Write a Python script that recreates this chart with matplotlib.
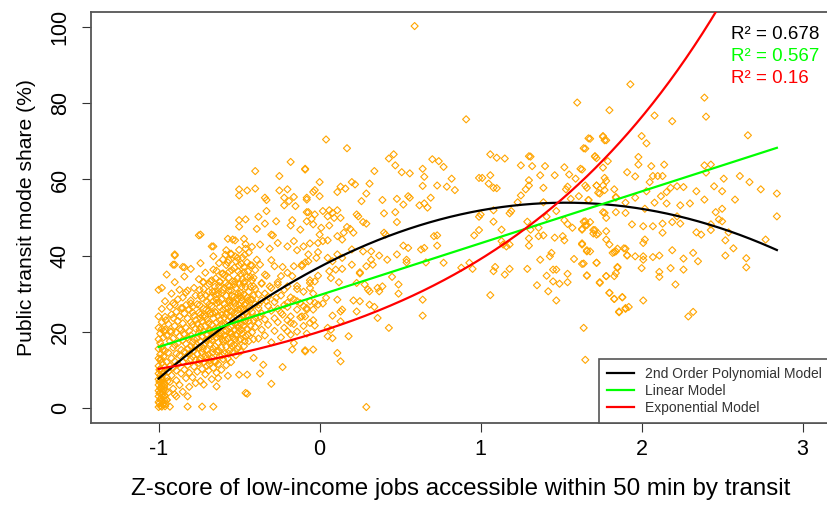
import numpy as np
import matplotlib

matplotlib.use("Agg")
import matplotlib.pyplot as plt

plt.rcParams["font.family"] = ["Liberation Sans", "DejaVu Sans"]

# model parameters
poly_coef = [37.0, 22.1, -7.23]  # a + b*x + c*x^2
lin_coef = [29.6, 13.63]  # a + b*x
exp_coef = [20.0, 0.67]  # a * exp(b*x)
model_names = ["2nd Order Polynomial Model", "Linear Model", "Exponential Model"]
model_colors = ["#000000", "#00FF00", "#FF0000"]
r2_labels = ["R\u00b2 = 0.678", "R\u00b2 = 0.567", "R\u00b2 = 0.16"]

x_ticks = [-1, 0, 1, 2, 3]
y_ticks = [0, 20, 40, 60, 80, 100]

# points stacked at the lower bound of the z-score
col_pts = [
    (-1.00, 0.2), (-1.00, 1.5), (-1.00, 3.0), (-1.00, 4.5), (-1.00, 6.0), (-1.00, 7.5),
    (-1.00, 9.0), (-1.00, 11.0), (-1.00, 13.0), (-1.00, 15.5), (-1.00, 18.0), (-1.00, 21.0),
    (-1.00, 24.0), (-1.00, 31.0), (-0.99, 0.5), (-0.99, 2.2), (-0.99, 4.0), (-0.99, 5.2),
    (-0.99, 7.0), (-0.99, 8.5), (-0.99, 10.2), (-0.99, 12.5), (-0.99, 14.0), (-0.99, 17.0),
    (-0.99, 19.5), (-0.98, 0.3), (-0.98, 1.8), (-0.98, 3.5), (-0.98, 5.8), (-0.98, 7.8),
    (-0.98, 9.6), (-0.98, 11.8), (-0.98, 16.0), (-0.98, 22.5), (-0.98, 26.0), (-0.97, 1.0),
    (-0.97, 2.8), (-0.97, 4.8), (-0.97, 6.5), (-0.97, 8.8), (-0.97, 13.5), (-0.97, 18.5),
    (-0.96, 0.4), (-0.96, 3.2), (-0.96, 6.2), (-0.96, 10.8), (-0.96, 15.0), (-0.96, 28.0),
    (-0.95, 2.0), (-0.95, 8.0), (-0.95, 12.0), (-0.95, 19.0), (-0.95, 35.0), (-0.94, 4.0),
    (-0.94, 9.5), (-0.94, 14.5), (-0.94, 22.0), (-0.93, 0.3), (-0.93, 6.8), (-0.93, 11.0),
    (-0.93, 17.5), (-0.93, 26.5), (-0.995, 1.2), (-0.995, 3.8), (-0.995, 6.8),
    (-0.985, 2.5), (-0.985, 5.0), (-0.985, 8.0), (-0.975, 0.8), (-0.975, 4.2),
    (-0.975, 7.2), (-0.965, 2.0), (-0.965, 5.5), (-0.955, 1.0), (-0.955, 4.6),
    (-0.945, 7.0), (-0.995, 10.0), (-0.985, 12.8), (-0.975, 15.2), (-0.965, 20.0),
    (-0.955, 23.0),
]

# dense cluster between z = -0.92 and z = 0
dense_pts = [
    (-0.92, 8.5), (-0.92, 13.0), (-0.92, 20.0), (-0.92, 24.5), (-0.92, 30.0),
    (-0.91, 5.0), (-0.91, 10.5), (-0.91, 15.8), (-0.91, 18.2), (-0.91, 27.5),
    (-0.90, 3.5), (-0.90, 12.2), (-0.90, 16.5), (-0.90, 21.5), (-0.90, 33.0),
    (-0.89, 7.2), (-0.89, 9.8), (-0.89, 14.2), (-0.89, 19.8), (-0.89, 25.2),
    (-0.88, 11.5), (-0.88, 17.0), (-0.88, 22.8), (-0.88, 28.5),
    (-0.87, 6.0), (-0.87, 13.8), (-0.87, 18.8), (-0.87, 24.0), (-0.87, 31.0),
    (-0.86, 9.0), (-0.86, 15.2), (-0.86, 20.5), (-0.86, 26.2),
    (-0.85, 4.2), (-0.85, 12.0), (-0.85, 17.8), (-0.85, 22.2), (-0.85, 29.0),
    (-0.84, 10.0), (-0.84, 14.8), (-0.84, 19.2), (-0.84, 24.8), (-0.84, 34.5),
    (-0.83, 7.8), (-0.83, 13.2), (-0.83, 16.8), (-0.83, 21.0), (-0.83, 27.0),
    (-0.82, 11.2), (-0.82, 15.5), (-0.82, 18.5), (-0.82, 23.5), (-0.82, 30.8),
    (-0.81, 5.5), (-0.81, 9.2), (-0.81, 14.0), (-0.81, 20.2), (-0.81, 25.8),
    (-0.80, 12.8), (-0.80, 16.2), (-0.80, 19.0), (-0.80, 22.5), (-0.80, 28.2), (-0.80, 36.5),
    (-0.79, 8.0), (-0.79, 13.5), (-0.79, 17.2), (-0.79, 21.8), (-0.79, 26.5),
    (-0.78, 10.8), (-0.78, 15.0), (-0.78, 18.0), (-0.78, 24.2), (-0.78, 31.5),
    (-0.77, 6.5), (-0.77, 12.5), (-0.77, 16.0), (-0.77, 20.8), (-0.77, 23.0), (-0.77, 29.5),
    (-0.76, 9.5), (-0.76, 14.2), (-0.76, 18.2), (-0.76, 22.0), (-0.76, 27.2),
    (-0.75, 11.8), (-0.75, 15.8), (-0.75, 19.5), (-0.75, 25.0), (-0.75, 33.8),
    (-0.74, 7.0), (-0.74, 13.0), (-0.74, 17.5), (-0.74, 21.2), (-0.74, 24.5), (-0.74, 38.0),
    (-0.73, 10.2), (-0.73, 14.5), (-0.73, 18.8), (-0.73, 22.8), (-0.73, 28.8),
    (-0.72, 12.0), (-0.72, 16.5), (-0.72, 20.0), (-0.72, 26.0), (-0.72, 31.2),
    (-0.71, 8.8), (-0.71, 13.8), (-0.71, 17.0), (-0.71, 21.5), (-0.71, 24.0), (-0.71, 35.5),
    (-0.70, 11.0), (-0.70, 15.2), (-0.70, 19.2), (-0.70, 23.2), (-0.70, 27.8),
    (-0.69, 9.8), (-0.69, 14.0), (-0.69, 18.0), (-0.69, 22.2), (-0.69, 25.5), (-0.69, 30.5),
    (-0.68, 12.5), (-0.68, 16.8), (-0.68, 20.5), (-0.68, 24.8), (-0.68, 29.0),
    (-0.67, 7.5), (-0.67, 13.2), (-0.67, 17.8), (-0.67, 21.8), (-0.67, 26.8), (-0.67, 33.5),
    (-0.66, 10.5), (-0.66, 15.5), (-0.66, 19.8), (-0.66, 23.5), (-0.66, 28.0),
    (-0.65, 12.2), (-0.65, 16.2), (-0.65, 20.8), (-0.65, 25.2), (-0.65, 31.8),
    (-0.64, 9.2), (-0.64, 14.8), (-0.64, 18.5), (-0.64, 22.5), (-0.64, 27.5), (-0.64, 36.0),
    (-0.63, 11.5), (-0.63, 17.2), (-0.63, 21.0), (-0.63, 24.2), (-0.63, 30.0),
    (-0.62, 13.5), (-0.62, 18.8), (-0.62, 23.0), (-0.62, 26.5), (-0.62, 33.0),
    (-0.61, 10.0), (-0.61, 15.8), (-0.61, 19.5), (-0.61, 22.0), (-0.61, 28.5),
    (-0.60, 12.8), (-0.60, 17.5), (-0.60, 21.5), (-0.60, 25.8), (-0.60, 31.0), (-0.60, 39.0),
    (-0.59, 14.2), (-0.59, 19.0), (-0.59, 23.8), (-0.59, 27.2), (-0.59, 34.8),
    (-0.58, 11.2), (-0.58, 16.0), (-0.58, 20.2), (-0.58, 24.5), (-0.58, 29.5), (-0.58, 37.5),
    (-0.57, 13.0), (-0.57, 18.2), (-0.57, 22.8), (-0.57, 26.2), (-0.57, 32.2),
    (-0.56, 15.0), (-0.56, 19.8), (-0.56, 24.0), (-0.56, 28.2), (-0.56, 35.8),
    (-0.55, 12.0), (-0.55, 17.0), (-0.55, 21.2), (-0.55, 25.5), (-0.55, 30.8), (-0.55, 40.5),
    (-0.54, 14.5), (-0.54, 18.5), (-0.54, 23.2), (-0.54, 27.8), (-0.54, 33.2),
    (-0.53, 16.5), (-0.53, 20.5), (-0.53, 25.0), (-0.53, 29.2), (-0.53, 36.8),
    (-0.52, 13.8), (-0.52, 19.2), (-0.52, 22.5), (-0.52, 26.8), (-0.52, 31.5), (-0.52, 38.5),
    (-0.51, 15.5), (-0.51, 21.8), (-0.51, 24.8), (-0.51, 28.8), (-0.51, 34.0),
    (-0.50, 17.8), (-0.50, 20.0), (-0.50, 23.5), (-0.50, 27.0), (-0.50, 32.5), (-0.50, 41.5),
    (-0.49, 14.8), (-0.49, 18.0), (-0.49, 22.0), (-0.49, 26.0), (-0.49, 30.2), (-0.49, 35.2),
    (-0.48, 19.5), (-0.48, 24.2), (-0.48, 28.0), (-0.48, 33.8), (-0.48, 39.5),
    (-0.47, 16.2), (-0.47, 21.5), (-0.47, 25.8), (-0.47, 29.8), (-0.47, 37.0),
    (-0.46, 18.8), (-0.46, 23.0), (-0.46, 27.5), (-0.46, 31.8), (-0.46, 43.0),
    (-0.45, 20.8), (-0.45, 24.5), (-0.45, 29.0), (-0.45, 34.5), (-0.45, 38.2),
    (-0.44, 17.5), (-0.44, 22.8), (-0.44, 26.5), (-0.44, 30.5), (-0.44, 40.8),
    (-0.42, 19.8), (-0.42, 25.2), (-0.42, 28.5), (-0.42, 33.5),
    (-0.40, 21.2), (-0.40, 23.8), (-0.40, 27.2), (-0.40, 31.2), (-0.40, 36.2),
    (-0.38, 18.2), (-0.38, 22.2), (-0.38, 26.2), (-0.38, 29.8),
    (-0.36, 20.5), (-0.36, 24.8), (-0.36, 28.2), (-0.36, 32.8),
    (-0.34, 19.0), (-0.34, 23.2), (-0.34, 30.0), (-0.34, 35.0),
    (-0.32, 21.8), (-0.32, 26.8), (-0.32, 29.2),
    (-0.30, 17.2), (-0.30, 25.5), (-0.30, 31.5), (-0.30, 38.8),
    (-0.28, 20.2), (-0.28, 23.5), (-0.28, 27.8),
    (-0.26, 22.5), (-0.26, 26.0), (-0.26, 33.0),
    (-0.24, 18.5), (-0.24, 25.0), (-0.24, 29.5),
    (-0.22, 21.0), (-0.22, 27.0), (-0.22, 31.0),
    (-0.20, 23.0), (-0.20, 26.5), (-0.20, 35.5),
    (-0.18, 19.2), (-0.18, 24.0), (-0.18, 29.0),
    (-0.16, 22.0), (-0.16, 28.5), (-0.14, 20.0), (-0.14, 25.8), (-0.14, 32.0),
    (-0.12, 23.8), (-0.12, 27.5), (-0.10, 21.5), (-0.10, 30.5),
    (-0.08, 19.5), (-0.08, 26.2), (-0.06, 28.0), (-0.06, 33.5), (-0.04, 23.0), (-0.04, 30.0),
]

# the solid core of the cluster, between z = -0.75 and z = -0.4
core_pts = [
    (-0.745, 12.5), (-0.745, 20.5), (-0.745, 27.0), (-0.745, 31.0),
    (-0.725, 15.5), (-0.725, 24.0), (-0.725, 33.0),
    (-0.705, 13.0), (-0.705, 17.8), (-0.705, 25.8), (-0.705, 29.5),
    (-0.685, 11.5), (-0.685, 20.2), (-0.685, 27.2), (-0.685, 32.5),
    (-0.665, 14.5), (-0.665, 18.8), (-0.665, 24.8), (-0.665, 30.5),
    (-0.645, 12.0), (-0.645, 20.0), (-0.645, 25.0), (-0.645, 29.8), (-0.645, 34.0),
    (-0.625, 15.0), (-0.625, 19.5), (-0.625, 27.8), (-0.625, 32.0), (-0.625, 38.0),
    (-0.605, 13.8), (-0.605, 18.0), (-0.605, 24.5), (-0.605, 30.2), (-0.605, 35.2),
    (-0.585, 17.8), (-0.585, 22.0), (-0.585, 26.2), (-0.585, 32.8), (-0.585, 40.2),
    (-0.565, 14.2), (-0.565, 20.8), (-0.565, 28.0), (-0.565, 30.8), (-0.565, 34.2),
    (-0.565, 38.8), (-0.545, 16.2), (-0.545, 19.5), (-0.545, 25.2), (-0.545, 29.5),
    (-0.545, 36.2), (-0.525, 18.0), (-0.525, 22.2), (-0.525, 27.5), (-0.525, 33.2),
    (-0.525, 39.8), (-0.525, 44.0), (-0.505, 16.0), (-0.505, 21.0), (-0.505, 25.8),
    (-0.505, 30.0), (-0.505, 35.8), (-0.485, 20.5), (-0.485, 23.2), (-0.485, 29.0),
    (-0.485, 31.8), (-0.485, 37.8), (-0.465, 17.5), (-0.465, 22.8), (-0.465, 27.0),
    (-0.465, 33.2), (-0.465, 40.2), (-0.445, 19.2), (-0.445, 24.0), (-0.445, 28.2),
    (-0.445, 35.8), (-0.43, 21.5), (-0.43, 26.0), (-0.43, 31.8), (-0.43, 37.5),
    (-0.41, 18.0), (-0.41, 23.0), (-0.41, 29.5), (-0.41, 34.2),
]

# scattered points, z from -1 to 0
left_pts = [
    (-0.18, 64.6), (-0.09, 62.6), (-0.40, 62.2), (-0.25, 60.9), (-0.50, 57.4), (-0.50, 55.8),
    (-0.45, 57.1), (-0.40, 57.6), (-0.25, 57.1), (-0.20, 57.4), (-0.34, 55.2), (-0.33, 54.6),
    (-0.22, 55.2), (-0.16, 55.4), (-0.19, 54.3), (-0.22, 53.2), (-0.15, 53.0), (-0.08, 54.7),
    (-0.33, 51.7), (-0.08, 51.4), (-0.27, 49.0), (-0.38, 50.2), (-0.50, 49.3), (-0.46, 49.5),
    (-0.50, 47.6), (-0.39, 47.0), (-0.34, 48.4), (-0.17, 49.3), (-0.18, 47.9), (-0.12, 46.8),
    (-0.08, 49.0), (-0.30, 45.5), (-0.29, 45.3), (-0.75, 45.3), (-0.57, 44.4), (-0.54, 44.2),
    (-0.67, 42.4), (-0.58, 41.4), (-0.47, 44.4), (-0.46, 41.8), (-0.42, 42.3), (-0.37, 42.9),
    (-0.31, 41.8), (-0.26, 43.3), (-0.20, 42.4), (-0.16, 43.8), (-0.14, 41.4), (-0.10, 42.4),
    (-0.90, 40.0), (-0.91, 37.6), (-0.85, 37.0), (-0.66, 39.8), (-0.55, 40.3), (-0.57, 38.2),
    (-0.51, 39.4), (-0.50, 37.4), (-0.42, 37.4), (-0.37, 37.6), (-0.39, 38.9), (-0.28, 37.2),
    (-0.23, 37.0), (-0.16, 37.2), (-0.11, 37.6), (-0.66, 36.3), (-0.60, 35.3), (-0.47, 35.6),
    (-0.43, 34.4), (-0.33, 34.7), (-0.24, 34.6), (-0.17, 34.6), (-0.98, 31.5), (-0.72, 33.0),
    (-0.68, 33.2), (-0.62, 33.2), (-0.83, 30.3), (-0.74, 29.5), (-0.65, 30.6), (-0.59, 31.5),
    (-0.56, 31.9), (-0.53, 32.4), (-0.47, 32.8), (-0.41, 31.9), (-0.36, 32.6), (-0.31, 31.9),
    (-0.26, 32.4), (-0.20, 31.9), (-0.14, 31.2), (-0.90, 27.1), (-0.80, 27.4), (-0.85, 26.2),
    (-0.91, 23.6), (-0.96, 23.9), (-0.98, 20.7), (-0.96, 20.5), (-0.93, 20.1), (-0.87, 20.7),
    (-0.79, 25.1), (-0.74, 23.6), (-0.64, 28.4), (-0.56, 27.6), (-0.50, 29.3), (-0.43, 28.4),
    (-0.38, 27.1), (-0.33, 28.0), (-0.27, 28.9), (-0.20, 27.6), (-0.14, 28.0), (-0.10, 26.7),
    (-0.46, 24.9), (-0.37, 24.0), (-0.23, 24.5), (-0.18, 22.3), (-0.11, 24.0), (-0.20, 20.1),
    (-0.16, 17.0), (-0.17, 15.3), (-0.09, 15.1), (-0.23, 10.7), (-0.41, 13.1), (-0.35, 11.3),
    (-0.37, 9.0), (-0.45, 8.7), (-0.50, 8.7), (-0.57, 8.4), (-0.63, 7.8), (-0.64, 5.6),
    (-0.72, 6.1), (-0.82, 3.0), (-0.89, 3.0), (-0.95, 2.1), (-0.30, 6.3), (-0.45, 3.7),
    (-0.82, 0.3), (-0.73, 0.3), (-0.66, 0.3), (-0.90, 40.3), (-0.90, 37.6), (-0.84, 36.9),
    (-0.74, 45.5), (-0.66, 42.4), (-0.46, 3.9),
]

# scattered points, z from 0 to 0.95
mid_pts = [
    (0.04, 70.5), (0.17, 68.2), (-0.09, 62.8), (0.43, 65.5), (0.46, 66.6), (0.47, 63.7),
    (0.34, 62.2), (0.51, 61.9), (0.56, 61.6), (0.70, 65.3), (0.74, 64.8), (0.77, 63.3),
    (0.64, 62.8), (0.65, 60.7), (0.73, 58.4), (0.79, 58.1), (0.82, 60.2), (0.84, 57.2),
    (0.64, 58.3), (0.00, 59.3), (0.20, 59.3), (0.22, 58.7), (0.31, 58.9), (0.13, 58.1),
    (0.16, 57.6), (0.11, 56.7), (-0.03, 57.2), (-0.04, 56.7), (-0.08, 55.2), (0.00, 55.6),
    (0.29, 56.3), (0.26, 54.3), (0.39, 54.6), (0.48, 54.9), (0.55, 55.6), (0.56, 55.2),
    (0.52, 53.4), (0.62, 53.2), (0.65, 53.7), (0.67, 52.6), (0.69, 55.2), (0.47, 51.4),
    (0.40, 51.1), (-0.07, 51.4), (-0.03, 50.8), (0.02, 51.7), (0.06, 51.9), (0.08, 51.2),
    (0.11, 51.9), (0.05, 50.3), (0.09, 49.9), (0.13, 49.9), (0.23, 50.8), (0.24, 50.3),
    (0.27, 48.8), (0.29, 48.4), (-0.05, 49.6), (-0.04, 48.2), (0.01, 47.3), (0.06, 47.9),
    (0.17, 47.5), (0.19, 47.0), (0.21, 46.0), (0.15, 46.0), (0.11, 45.1), (0.14, 44.2),
    (0.00, 45.5), (0.02, 43.8), (-0.01, 43.3), (0.05, 44.0), (-0.06, 43.2), (0.40, 46.0),
    (0.41, 45.5), (0.48, 48.8), (0.71, 45.1), (0.73, 45.3), (0.73, 42.6), (0.63, 41.6),
    (0.65, 42.0), (0.52, 42.6), (0.55, 42.0), (0.48, 40.3), (0.37, 40.0), (0.42, 38.9),
    (0.54, 38.2), (0.54, 38.9), (0.66, 38.2), (0.77, 38.1), (0.88, 36.8), (0.20, 41.6),
    (0.27, 41.1), (0.32, 41.1), (0.32, 38.9), (0.33, 37.6), (0.29, 37.2), (0.25, 35.6),
    (0.25, 35.3), (0.20, 37.6), (0.11, 40.3), (0.14, 39.4), (0.05, 39.4), (0.08, 38.5),
    (-0.01, 40.9), (-0.02, 39.4), (-0.07, 40.3), (-0.07, 38.5), (-0.11, 37.2), (-0.09, 38.2),
    (0.06, 35.9), (0.10, 36.3), (0.14, 36.5), (0.12, 33.0), (0.07, 34.1), (-0.01, 34.7),
    (-0.03, 33.2), (-0.06, 32.8), (-0.06, 31.5), (0.23, 32.8), (0.28, 32.4), (0.30, 31.1),
    (0.31, 30.6), (0.36, 31.5), (0.39, 31.9), (0.37, 30.6), (0.45, 34.4), (0.49, 32.4),
    (0.49, 30.0), (0.21, 28.2), (0.25, 28.0), (0.31, 27.1), (0.34, 26.5), (0.36, 23.6),
    (0.23, 25.3), (0.14, 25.8), (0.13, 25.3), (0.11, 28.4), (0.04, 28.9), (0.02, 27.4),
    (-0.01, 27.1), (-0.03, 27.6), (-0.04, 25.8), (-0.08, 25.8), (-0.09, 24.0), (0.08, 24.2),
    (0.13, 22.7), (0.18, 18.8), (0.05, 21.0), (0.07, 20.5), (0.05, 18.8), (0.08, 18.3),
    (-0.03, 21.6), (-0.06, 22.3), (-0.09, 14.8), (-0.04, 15.3), (0.11, 14.4), (0.13, 12.2),
    (0.43, 21.0), (0.64, 28.4), (0.64, 24.2), (0.29, 0.2), (0.59, 100.3),
]

# scattered points, z from 0.9 to 2.85
right_pts = [
    (0.91, 75.8), (1.60, 80.2), (1.80, 78.2), (1.67, 70.8), (1.76, 71.2), (1.78, 70.3),
    (1.64, 68.2), (1.71, 66.1), (1.72, 65.6), (1.06, 66.6), (1.10, 65.7), (1.15, 65.5),
    (1.30, 66.1), (1.31, 66.0), (1.25, 63.7), (1.32, 63.5), (1.40, 63.5), (1.52, 63.2),
    (1.62, 62.8), (1.55, 61.3), (1.59, 60.2), (1.46, 61.1), (1.37, 61.1), (0.99, 60.4),
    (1.01, 60.4), (1.06, 61.1), (1.05, 58.9), (1.08, 57.8), (1.10, 57.7), (1.30, 59.8),
    (1.30, 58.4), (1.28, 57.4), (1.39, 57.8), (1.54, 58.1), (1.65, 58.4), (1.72, 58.4),
    (1.25, 55.8), (1.23, 54.0), (1.39, 54.0), (1.47, 51.7), (1.53, 57.4), (1.56, 54.9),
    (1.61, 55.6), (1.67, 54.6), (1.73, 56.5), (1.77, 57.2), (1.77, 51.2), (1.78, 49.9),
    (1.84, 55.4), (1.84, 51.4), (1.19, 51.7), (1.18, 51.1), (1.08, 51.9), (1.00, 50.8),
    (0.99, 50.2), (1.08, 48.9), (1.29, 48.9), (1.41, 50.2), (1.52, 49.3), (1.54, 48.3),
    (1.57, 47.3), (1.64, 48.9), (1.65, 47.9), (1.63, 46.8), (1.70, 46.7), (1.72, 45.5),
    (1.78, 46.4), (1.78, 44.2), (1.13, 46.8), (0.99, 46.7), (0.96, 45.3), (1.31, 46.8),
    (1.36, 47.3), (1.36, 45.1), (1.39, 45.3), (1.46, 44.7), (1.51, 45.1), (1.52, 44.0),
    (1.30, 44.5), (1.30, 42.6), (1.13, 43.8), (1.14, 42.9), (1.16, 42.4), (1.18, 42.9),
    (1.63, 43.2), (1.66, 41.4), (1.68, 41.1), (1.83, 40.9), (1.85, 41.8), (1.90, 41.8),
    (1.91, 40.1), (1.58, 39.1), (1.64, 37.9), (1.72, 38.1), (1.37, 38.9), (1.43, 39.8),
    (1.44, 40.7), (0.93, 38.1), (0.95, 36.5), (1.09, 37.0), (1.08, 35.9), (1.15, 35.0),
    (1.18, 36.5), (1.29, 36.5), (1.45, 36.3), (1.47, 36.3), (1.41, 34.7), (1.54, 35.2),
    (1.66, 34.8), (1.78, 34.6), (1.83, 34.6), (1.84, 35.4), (1.85, 37.0), (1.45, 33.2),
    (1.49, 32.6), (1.54, 33.0), (1.35, 32.2), (1.74, 33.0), (1.42, 30.6), (1.47, 28.2),
    (1.80, 30.2), (1.83, 28.6), (1.88, 29.1), (1.86, 25.1), (1.90, 26.0), (1.06, 29.6),
    (1.64, 21.0), (1.65, 12.6), (1.68, 70.7), (1.65, 68.1), (1.76, 71.4), (1.77, 70.3),
    (1.71, 66.0), (1.79, 64.8), (1.76, 63.1), (1.63, 62.6), (1.77, 60.4), (1.78, 59.6),
    (1.72, 58.4), (1.66, 57.8), (1.76, 58.4), (1.83, 57.4), (1.74, 56.3), (1.67, 54.6),
    (1.84, 55.2), (1.76, 51.4), (1.65, 49.0), (1.66, 48.0), (1.63, 47.0), (1.68, 48.8),
    (1.71, 46.7), (1.73, 45.8), (1.70, 45.8), (1.80, 42.9), (1.82, 40.7), (1.84, 41.1),
    (1.63, 42.9), (1.66, 41.1), (1.63, 37.8), (1.72, 38.1), (1.66, 34.7), (1.74, 32.8),
    (1.78, 34.6), (1.85, 36.8), (1.80, 30.2), (1.83, 28.6), (1.86, 25.3),
    (1.93, 85.0), (2.39, 81.5), (2.40, 76.5), (2.08, 76.8), (2.19, 75.3), (2.66, 71.6),
    (2.00, 71.4), (2.03, 69.5), (1.98, 65.9), (1.98, 63.9), (2.06, 63.5), (2.14, 63.9),
    (1.91, 61.9), (1.96, 60.8), (2.07, 60.9), (2.10, 60.9), (2.13, 60.9), (2.05, 59.3),
    (2.39, 63.7), (2.43, 63.9), (2.40, 61.8), (2.51, 60.2), (2.61, 60.9), (2.67, 59.3),
    (2.74, 57.4), (2.84, 56.3), (2.84, 50.3), (2.58, 54.7), (2.50, 56.9), (2.45, 58.2),
    (2.34, 56.9), (2.26, 58.0), (2.22, 58.2), (2.18, 57.8), (2.155, 56.7), (2.12, 55.6),
    (2.08, 53.9), (2.03, 56.9), (1.96, 55.2), (1.90, 53.9), (2.02, 52.3), (2.155, 53.7),
    (2.24, 53.2), (2.30, 53.7), (2.39, 54.7), (2.50, 52.3), (2.46, 51.4), (2.50, 49.0),
    (2.48, 49.5), (2.22, 50.3), (2.19, 48.8), (2.13, 48.4), (2.07, 47.7), (2.01, 47.7),
    (1.94, 48.2), (1.90, 51.2), (2.24, 48.4), (2.34, 46.1), (2.43, 48.2), (2.43, 46.7),
    (2.54, 46.1), (2.52, 44.0), (2.57, 41.9), (2.77, 44.2), (2.37, 45.5), (2.13, 46.0),
    (2.02, 44.2), (2.01, 43.3), (1.89, 41.9), (1.91, 40.0), (1.96, 39.8), (2.01, 39.8),
    (2.01, 38.9), (2.07, 39.6), (2.11, 40.0), (2.19, 41.4), (2.26, 39.2), (2.32, 40.7),
    (2.35, 38.5), (2.52, 40.0), (2.65, 39.3), (2.65, 36.9), (2.00, 36.7), (2.18, 36.7),
    (2.26, 36.3), (2.11, 35.7), (2.11, 34.4), (2.21, 32.4), (1.88, 29.0), (2.01, 28.2),
    (1.90, 26.2), (1.92, 26.5), (2.32, 25.2), (2.29, 24.0),
]


def unpack(*groups):
    pts = np.array([p for g in groups for p in g])
    return pts[:, 0], pts[:, 1]


def main():
    xs, ys = unpack(col_pts, dense_pts, core_pts, left_pts, mid_pts, right_pts)

    fig = plt.figure(figsize=(8.28, 5.07), dpi=100)
    ax = fig.add_axes([91 / 828, 84 / 507, 739 / 828, 411 / 507])

    ax.scatter(xs, ys, s=13, marker="D", facecolors="none",
               edgecolors="#FFA500", linewidths=0.8, zorder=2)

    grid = np.linspace(xs.min(), xs.max(), 300)
    curves = [
        poly_coef[0] + poly_coef[1] * grid + poly_coef[2] * grid ** 2,
        lin_coef[0] + lin_coef[1] * grid,
        exp_coef[0] * np.exp(exp_coef[1] * grid),
    ]
    for name, color, curve in zip(model_names, model_colors, curves):
        ax.plot(grid, curve, color=color, linewidth=1.6, label=name, zorder=3)

    ax.set_xlim(-1.42, 3.17)
    ax.set_ylim(-4.0, 104.0)
    ax.set_xticks(x_ticks)
    ax.set_xticklabels([str(v) for v in x_ticks])
    ax.set_yticks(y_ticks)
    ax.set_yticklabels([str(v) for v in y_ticks], rotation=90, va="center")
    ax.tick_params(axis="both", direction="out", length=6.5, width=0.8,
                   color="#333333", labelsize=15.5)
    ax.tick_params(axis="y", pad=8)
    ax.tick_params(axis="x", pad=5)
    for side in ["left", "top", "bottom"]:
        ax.spines[side].set_color("#555555")
        ax.spines[side].set_linewidth(1.3)
    ax.spines["right"].set_visible(False)

    ax.set_xlabel("Z-score of low-income jobs accessible within 50 min by transit",
                  fontsize=17.4, labelpad=13)
    ax.set_ylabel("Public transit mode share (%)", fontsize=15.2, labelpad=10)

    for i, (label, color) in enumerate(zip(r2_labels, model_colors)):
        ax.text(0.866, 0.935 - i * 0.054, label, color=color, fontsize=13.5,
                transform=ax.transAxes, ha="left", va="baseline")

    leg = ax.legend(loc="lower right", bbox_to_anchor=(1.0, 0.0), borderaxespad=0,
                    fontsize=10, frameon=True, fancybox=False, framealpha=1,
                    edgecolor="#555555", handlelength=1.9, handletextpad=0.8,
                    labelspacing=0.2, borderpad=0.6)
    leg.get_frame().set_linewidth(1.2)
    for text in leg.get_texts():
        text.set_color("#333333")

    fig.savefig("out.png", dpi=100)


if __name__ == "__main__":
    main()
